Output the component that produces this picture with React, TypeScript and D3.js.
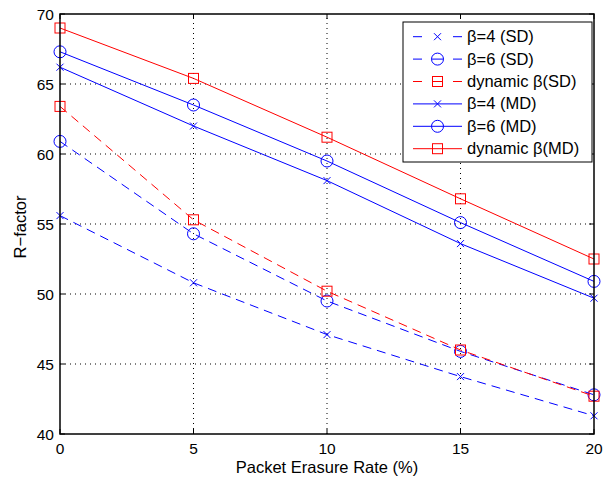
import * as d3 from 'd3';
import React from 'react';

// packet erasure rates (%)
const rates = [0, 5, 10, 15, 20];
const xTicks = [0, 5, 10, 15, 20];
const yTicks = [40, 45, 50, 55, 60, 65, 70];

// R-factor values
const beta4SD = [55.6, 50.8, 47.1, 44.1, 41.3];
const beta6SD = [60.9, 54.3, 49.5, 45.9, 42.8];
const dynSD = [63.4, 55.3, 50.2, 46.0, 42.7];
const beta4MD = [66.2, 62.0, 58.1, 53.6, 49.7];
const beta6MD = [67.3, 63.5, 59.5, 55.1, 50.9];
const dynMD = [69.0, 65.4, 61.2, 56.8, 52.5];

const seriesNames = ['β=4 (SD)', 'β=6 (SD)', 'dynamic β(SD)', 'β=4 (MD)', 'β=6 (MD)', 'dynamic β(MD)'];

const series = [
  { name: seriesNames[0], values: beta4SD, color: '#0000ff', dashed: true, marker: 'x' },
  { name: seriesNames[1], values: beta6SD, color: '#0000ff', dashed: true, marker: 'o' },
  { name: seriesNames[2], values: dynSD, color: '#ff0000', dashed: true, marker: 's' },
  { name: seriesNames[3], values: beta4MD, color: '#0000ff', dashed: false, marker: 'x' },
  { name: seriesNames[4], values: beta6MD, color: '#0000ff', dashed: false, marker: 'o' },
  { name: seriesNames[5], values: dynMD, color: '#ff0000', dashed: false, marker: 's' },
];

const W = 616;
const H = 482;
const margin = { top: 14, right: 22, bottom: 48, left: 60 };
const font = '"Liberation Sans", Arial, Helvetica, sans-serif';

const x = d3.scaleLinear().domain([0, 20]).range([margin.left, W - margin.right]);
const y = d3.scaleLinear().domain([40, 70]).range([H - margin.bottom, margin.top]);

function Marker({ type, cx, cy, color }: { type: string; cx: number; cy: number; color: string }) {
  if (type === 'x') {
    const r = 3.5;
    return (
      <path d={`M${cx - r},${cy - r}L${cx + r},${cy + r}M${cx - r},${cy + r}L${cx + r},${cy - r}`}
        stroke={color} strokeWidth={1} fill="none" />
    );
  }
  if (type === 'o') {
    return <circle cx={cx} cy={cy} r={6} stroke={color} strokeWidth={1} fill="none" />;
  }
  return <rect x={cx - 5} y={cy - 5} width={10} height={10} stroke={color} strokeWidth={1} fill="none" />;
}

export default function App() {
  const line = d3.line<number>().x((d, i) => x(rates[i])).y(d => y(d));
  const x0 = x.range()[0], x1 = x.range()[1];
  const y0 = y.range()[0], y1 = y.range()[1];

  const legend = { left: 403, top: 22, right: 592, bottom: 162 };
  const rowH = 22.4;

  return (
    <svg width={W} height={H} style={{ position: 'absolute', left: 0, top: 0, background: '#fff' }}
      fontFamily={font}>
      <rect x={0} y={0} width={W} height={H} fill="#fff" />
      {/* grid */}
      {xTicks.slice(1, -1).map(t => (
        <line key={'gx' + t} x1={x(t)} x2={x(t)} y1={y0} y2={y1} stroke="#000" strokeWidth={1}
          strokeDasharray="1,4" />
      ))}
      {yTicks.slice(1, -1).map(t => (
        <line key={'gy' + t} x1={x0} x2={x1} y1={y(t)} y2={y(t)} stroke="#000" strokeWidth={1}
          strokeDasharray="1,4" />
      ))}
      {/* ticks inside the box */}
      {xTicks.map(t => (
        <g key={'tx' + t}>
          <line x1={x(t)} x2={x(t)} y1={y0} y2={y0 - 5} stroke="#000" />
          <line x1={x(t)} x2={x(t)} y1={y1} y2={y1 + 5} stroke="#000" />
          <text x={x(t)} y={y0 + 20} fontSize={15.5} textAnchor="middle">{t}</text>
        </g>
      ))}
      {yTicks.map(t => (
        <g key={'ty' + t}>
          <line x1={x0} x2={x0 + 5} y1={y(t)} y2={y(t)} stroke="#000" />
          <line x1={x1} x2={x1 - 5} y1={y(t)} y2={y(t)} stroke="#000" />
          <text x={x0 - 6} y={y(t) + 6} fontSize={15.5} textAnchor="end">{t}</text>
        </g>
      ))}
      {/* series */}
      {series.map(s => (
        <g key={s.name}>
          <path d={line(s.values) || ''} fill="none" stroke={s.color} strokeWidth={1}
            strokeDasharray={s.dashed ? '9,6' : undefined} />
          {s.values.map((v, i) => (
            <Marker key={i} type={s.marker} cx={x(rates[i])} cy={y(v)} color={s.color} />
          ))}
        </g>
      ))}
      {/* box */}
      <rect x={x0} y={y1} width={x1 - x0} height={y0 - y1} fill="none" stroke="#000" strokeWidth={1.5} />
      {/* axis labels */}
      <text x={(x0 + x1) / 2} y={H - 9} fontSize={16.5} textAnchor="middle">Packet Erasure Rate (%)</text>
      <text transform={`translate(25.5,${(y0 + y1) / 2 + 3}) rotate(-90)`} fontSize={16.5} textAnchor="middle">R−factor</text>
      {/* legend */}
      <rect x={legend.left} y={legend.top} width={legend.right - legend.left} height={legend.bottom - legend.top}
        fill="#fff" stroke="#000" strokeWidth={1} />
      {series.map((s, i) => {
        const cy = legend.top + 14.7 + i * rowH;
        return (
          <g key={'lg' + s.name}>
            {s.dashed ? (
              <g>
                <line x1={413} x2={422} y1={cy} y2={cy} stroke={s.color} strokeWidth={1} />
                {s.marker !== 'x' && (
                  <line x1={432} x2={443} y1={cy} y2={cy} stroke={s.color} strokeWidth={1} />
                )}
                <line x1={453} x2={462} y1={cy} y2={cy} stroke={s.color} strokeWidth={1} />
              </g>
            ) : (
              <line x1={413} x2={462} y1={cy} y2={cy} stroke={s.color} strokeWidth={1} />
            )}
            <Marker type={s.marker} cx={437.5} cy={cy} color={s.color} />
            <text x={467} y={cy + 5.5} fontSize={16.5}>{s.name}</text>
          </g>
        );
      })}
    </svg>
  );
}
